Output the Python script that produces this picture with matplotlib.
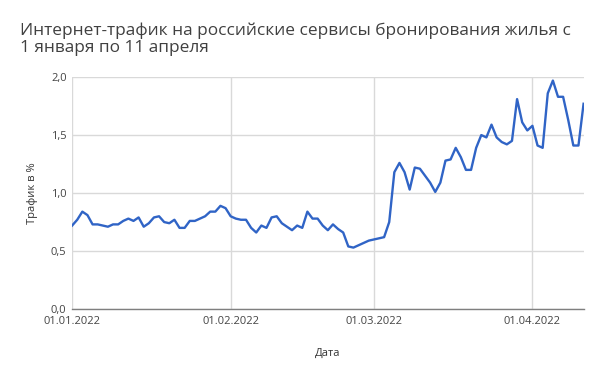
import numpy as np
import pandas as pd
import matplotlib
matplotlib.use('Agg')
import matplotlib.pyplot as plt
import matplotlib.dates as mdates
from matplotlib.ticker import FuncFormatter

plt.rcParams['font.family'] = ['Open Sans', 'DejaVu Sans']

dates = pd.date_range('2022-01-01', '2022-04-11', freq='D')

jan = [0.72, 0.77, 0.84, 0.81, 0.73, 0.73, 0.72, 0.71, 0.73, 0.73,
       0.76, 0.78, 0.76, 0.79, 0.71, 0.74, 0.79, 0.80, 0.75, 0.74,
       0.77, 0.70, 0.70, 0.76, 0.76, 0.78, 0.80, 0.84, 0.84, 0.89, 0.87]
feb = [0.80, 0.78, 0.77, 0.77, 0.70, 0.66, 0.72, 0.70, 0.79, 0.80,
       0.74, 0.71, 0.68, 0.72, 0.70, 0.84, 0.78, 0.78, 0.72, 0.68,
       0.73, 0.69, 0.66, 0.54, 0.53, 0.55, 0.57, 0.59]
mar = [0.60, 0.61, 0.62, 0.75, 1.18, 1.26, 1.18, 1.03, 1.22, 1.21,
       1.15, 1.09, 1.01, 1.09, 1.28, 1.29, 1.39, 1.31, 1.20, 1.20,
       1.39, 1.50, 1.48, 1.59, 1.48, 1.44, 1.42, 1.45, 1.81, 1.61, 1.54]
apr = [1.58, 1.41, 1.39, 1.86, 1.97, 1.83, 1.83, 1.63, 1.41, 1.41, 1.77]
traffic = jan + feb + mar + apr

month_ticks = pd.to_datetime(['2022-01-01', '2022-02-01', '2022-03-01', '2022-04-01'])
y_ticks = [0.0, 0.5, 1.0, 1.5, 2.0]

fig = plt.figure(figsize=(6.01, 3.76), dpi=100)
ax = fig.add_axes([0.120, 0.178, 0.851, 0.617])

ax.plot(dates, traffic, color='#3064c6', linewidth=1.7, zorder=3)

ax.set_xlim(dates[0], dates[-1])
ax.set_ylim(0, 2.0)
ax.set_xticks(month_ticks)
ax.xaxis.set_major_formatter(mdates.DateFormatter('%d.%m.%Y'))
ax.set_yticks(y_ticks)
ax.yaxis.set_major_formatter(FuncFormatter(lambda v, p: ('%.1f' % v).replace('.', ',')))

ax.grid(True, color='#d9d9d9', linewidth=1.0)
ax.set_axisbelow(True)
for s in ['top', 'right', 'left']:
    ax.spines[s].set_visible(False)
ax.spines['bottom'].set_color('#7f7f7f')
ax.spines['bottom'].set_linewidth(1.0)
ax.spines['bottom'].set_zorder(4)
ax.tick_params(length=0, labelsize=8, labelcolor='#444444')
ax.tick_params(axis='x', pad=5)
ax.tick_params(axis='y', pad=4)

ax.set_xlabel('Дата', fontsize=8, color='#333333', labelpad=15)
ax.set_ylabel('Трафик в %', fontsize=8, color='#333333', labelpad=9)

fig.text(0.033, 0.94, 'Интернет-трафик на российские сервисы бронирования жилья с\n1 января по 11 апреля',
         fontsize=12.4, color='#404040', ha='left', va='top', linespacing=1.1)

fig.savefig('out.png', dpi=100)
